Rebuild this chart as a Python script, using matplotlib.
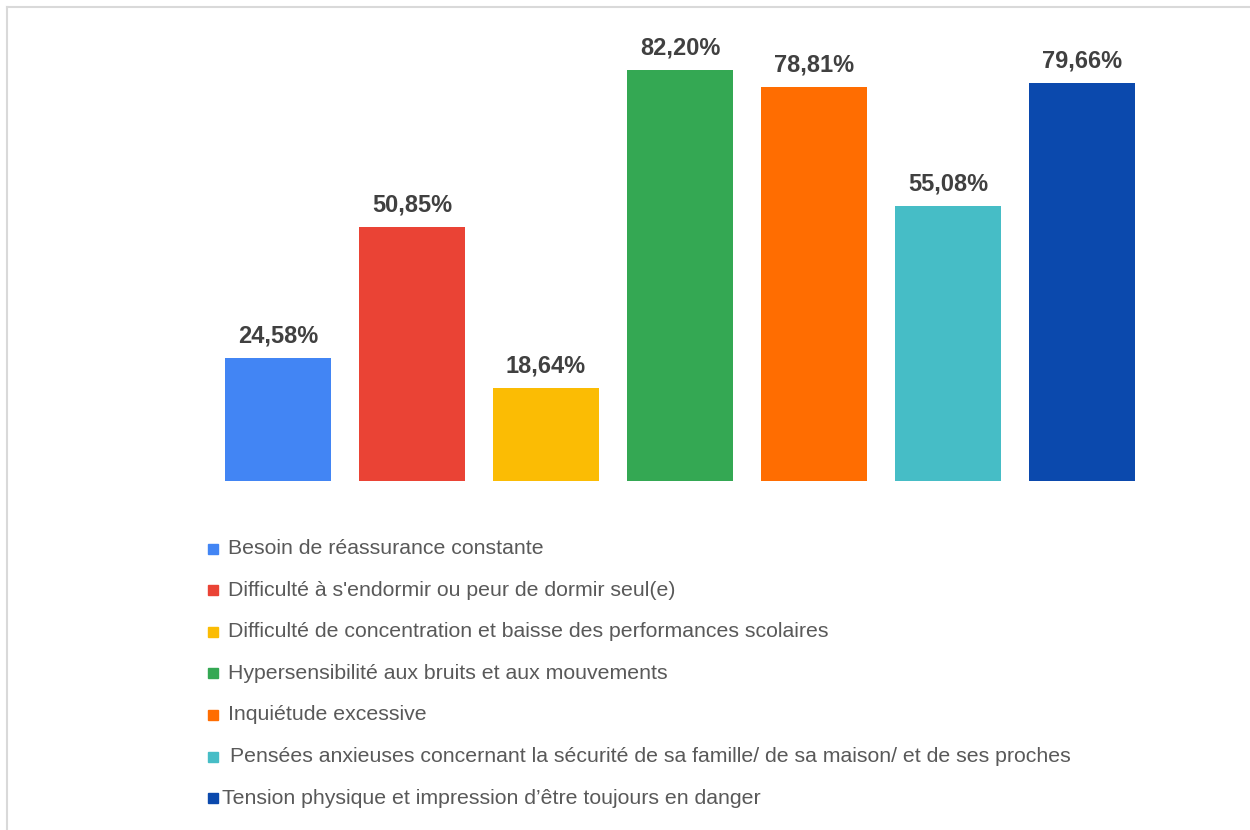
import matplotlib
matplotlib.use("Agg")
import matplotlib.pyplot as plt
from matplotlib.patches import Rectangle
from matplotlib.lines import Line2D

plt.rcParams["font.family"] = ["Liberation Sans", "DejaVu Sans"]

categories = [
    "Besoin de réassurance constante",
    "Difficulté à s'endormir ou peur de dormir seul(e)",
    "Difficulté de concentration et baisse des performances scolaires",
    "Hypersensibilité aux bruits et aux mouvements",
    "Inquiétude excessive",
    "Pensées anxieuses concernant la sécurité de sa famille/ de sa maison/ et de ses proches",
    "Tension physique et impression d\u2019être toujours en danger",
]
values = [24.58, 50.85, 18.64, 82.20, 78.81, 55.08, 79.66]
colors = ["#4285F4", "#EA4335", "#FBBC04", "#34A853", "#FF6D01", "#46BDC6", "#0B49AD"]

fig = plt.figure(figsize=(12.5, 8.3), dpi=100)
ax = fig.add_axes([211 / 1250, 1 - 481 / 830, 938 / 1250, 450 / 830])

x = list(range(len(values)))
bars = ax.bar(x, values, width=0.79, color=colors)
for b, v in zip(bars, values):
    ax.annotate(f"{v:.2f}%".replace(".", ","),
                (b.get_x() + b.get_width() / 2, v),
                xytext=(0, 11), textcoords="offset points",
                ha="center", va="baseline",
                fontsize=17, fontweight="bold", color="#404040")

ax.set_xlim(-0.5, 6.5)
ax.set_ylim(0, 90)
ax.axis("off")

# legend drawn by hand: one square + label per row
x_sq = 208 / 1250
for i, (lab, c) in enumerate(zip(categories, colors)):
    yc = 1 - (548.5 + i * 41.6) / 830
    fig.add_artist(Rectangle((x_sq, yc - 5 / 830), 10 / 1250, 10 / 830,
                             transform=fig.transFigure, color=c))
    tx = 228
    if i == 5:
        tx = 230
    elif i == 6:
        tx = 222
    fig.text(tx / 1250, yc, lab, fontsize=15.3, color="#595959",
             ha="left", va="center")

# thin grey frame on the top and left edges
fig.add_artist(Line2D([7 / 1250, 1], [1 - 7 / 830, 1 - 7 / 830],
                      transform=fig.transFigure, color="#d9d9d9", lw=1.5))
fig.add_artist(Line2D([7 / 1250, 7 / 1250], [0, 1 - 7 / 830],
                      transform=fig.transFigure, color="#d9d9d9", lw=1.5))

fig.savefig("out.png", dpi=100)
